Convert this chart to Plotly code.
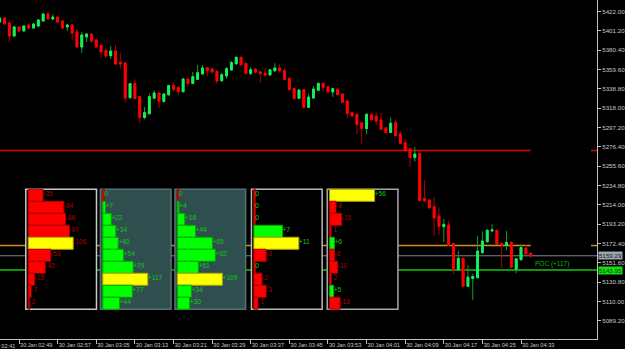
import plotly.graph_objects as go

# ---------------- data ----------------
DAY_LABEL = "30 Jan"
FIRST_BAR = "02:45"          # time of the first (partly visible) M1 candle

OPEN = [5410.7, 5415.0, 5409.7, 5395.7, 5405.4, 5401.1, 5407.5, 5404.3, 5406.4, 5411.8,
        5419.3, 5414.0, 5416.1, 5411.8, 5405.4, 5407.5, 5400.0, 5383.8, 5394.6, 5397.8,
        5391.4, 5385.5, 5380.1, 5374.5, 5379.5, 5367.4, 5366.6, 5329.3, 5344.4, 5330.4,
        5308.0, 5312.1, 5328.7, 5334.4, 5325.2, 5332.4, 5342.7, 5340.5, 5335.8, 5349.4,
        5344.6, 5349.1, 5354.8, 5361.6, 5360.2, 5357.7, 5347.6, 5352.7, 5359.1, 5365.8,
        5372.8, 5366.1, 5355.3, 5360.2, 5357.0, 5355.7, 5353.7, 5358.2, 5361.3, 5358.6,
        5350.2, 5339.2, 5328.7, 5338.1, 5319.0, 5329.0, 5337.3, 5344.8, 5341.1, 5335.5,
        5338.5, 5333.3, 5325.8, 5313.4, 5311.5, 5302.3, 5296.2, 5311.0, 5309.6, 5305.3,
        5297.0, 5291.9, 5302.4, 5290.3, 5280.9, 5274.1, 5265.0, 5269.5, 5221.1, 5219.3,
        5212.1, 5202.1, 5190.6, 5192.4, 5172.5, 5144.5, 5156.6, 5126.5, 5134.9, 5135.7,
        5162.6, 5174.4, 5186.0, 5186.7, 5172.5, 5170.4, 5173.8, 5144.9, 5155.0, 5167.5,
        5162.0]
HIGH = [5416.1, 5416.1, 5412.9, 5406.4, 5406.4, 5407.5, 5408.6, 5409.7, 5414.0, 5420.4,
        5421.5, 5419.3, 5417.2, 5412.9, 5408.6, 5408.6, 5403.2, 5400.0, 5398.9, 5398.9,
        5392.5, 5387.1, 5383.3, 5384.9, 5386.0, 5377.7, 5367.7, 5345.1, 5349.1, 5331.2,
        5319.3, 5333.8, 5337.1, 5334.9, 5334.4, 5343.0, 5345.9, 5341.4, 5350.0, 5350.8,
        5357.0, 5364.5, 5364.5, 5362.3, 5361.3, 5358.6, 5356.2, 5362.3, 5368.8, 5373.4,
        5373.4, 5368.0, 5362.0, 5361.3, 5358.0, 5361.3, 5360.2, 5366.4, 5365.2, 5360.9,
        5350.8, 5339.8, 5338.4, 5338.7, 5333.6, 5341.9, 5345.5, 5345.5, 5341.9, 5339.8,
        5339.0, 5333.8, 5326.3, 5313.9, 5312.1, 5302.9, 5312.3, 5313.2, 5313.2, 5313.2,
        5297.8, 5307.8, 5305.3, 5293.5, 5284.7, 5275.5, 5276.3, 5270.2, 5240.5, 5219.8,
        5222.2, 5211.2, 5198.9, 5197.0, 5173.0, 5164.7, 5157.2, 5149.2, 5140.0, 5180.9,
        5185.4, 5187.6, 5193.1, 5187.3, 5173.0, 5186.0, 5174.4, 5156.6, 5171.4, 5170.9,
        5162.3]
LOW = [5409.7, 5407.5, 5389.2, 5394.6, 5400.0, 5400.0, 5402.7, 5403.2, 5405.4, 5410.7,
       5412.9, 5412.9, 5409.7, 5403.2, 5401.1, 5391.4, 5382.8, 5377.4, 5389.2, 5388.2,
       5382.8, 5372.6, 5372.0, 5371.0, 5364.5, 5360.7, 5323.9, 5328.5, 5327.4, 5301.8,
       5306.1, 5311.3, 5327.9, 5317.9, 5324.2, 5331.7, 5335.8, 5332.5, 5334.9, 5341.1,
       5344.1, 5348.4, 5353.7, 5351.9, 5355.9, 5344.4, 5346.7, 5349.8, 5358.6, 5365.0,
       5363.9, 5354.6, 5353.4, 5355.9, 5345.7, 5353.0, 5353.0, 5357.7, 5357.5, 5348.4,
       5337.3, 5326.8, 5327.9, 5317.2, 5318.2, 5328.2, 5336.5, 5335.8, 5334.7, 5330.1,
       5331.9, 5323.6, 5307.2, 5308.9, 5289.9, 5279.5, 5289.9, 5304.3, 5300.0, 5294.6,
       5291.1, 5291.4, 5287.8, 5279.5, 5271.7, 5255.1, 5260.7, 5218.2, 5217.5, 5210.2,
       5180.8, 5181.6, 5174.1, 5169.8, 5139.7, 5144.0, 5125.7, 5125.7, 5111.7, 5135.1,
       5162.0, 5173.8, 5185.4, 5170.9, 5146.2, 5165.2, 5146.2, 5140.5, 5154.2, 5160.6,
       5156.6]
CLOSE = [5415.0, 5408.6, 5395.7, 5405.4, 5401.1, 5406.4, 5404.3, 5408.6, 5412.9, 5419.3,
         5414.0, 5416.1, 5410.7, 5404.3, 5407.5, 5398.9, 5383.8, 5396.8, 5397.8, 5390.3,
         5383.8, 5378.5, 5374.2, 5379.5, 5365.6, 5365.6, 5329.0, 5344.4, 5328.5, 5308.2,
         5313.2, 5330.4, 5334.4, 5325.6, 5333.3, 5342.4, 5338.5, 5335.8, 5349.4, 5344.6,
         5351.9, 5356.2, 5361.3, 5358.4, 5357.0, 5347.3, 5354.1, 5360.5, 5367.0, 5372.8,
         5364.8, 5355.3, 5359.4, 5356.7, 5355.1, 5353.7, 5359.3, 5361.3, 5358.2, 5349.1,
         5338.0, 5328.7, 5337.6, 5319.0, 5330.1, 5338.7, 5344.8, 5340.3, 5335.5, 5339.0,
         5332.5, 5324.4, 5312.3, 5309.6, 5300.5, 5296.2, 5311.5, 5305.9, 5304.3, 5295.3,
         5291.9, 5301.8, 5288.5, 5280.3, 5272.3, 5265.0, 5268.8, 5218.7, 5218.2, 5210.9,
         5199.9, 5190.8, 5193.0, 5170.7, 5144.5, 5156.6, 5126.5, 5136.3, 5137.0, 5164.2,
         5175.2, 5186.8, 5187.3, 5171.7, 5170.9, 5173.6, 5147.0, 5156.0, 5168.2, 5161.2,
         5159.29]

# horizontal price levels
RED_LEVEL = 5272.5
ORANGE_LEVEL = 5170.3
BID_PRICE = CLOSE[-1]
POC_PRICE = 5143.95

# volume-delta profiles (10 price rows each, top row first)
PROFILES = [
    [-35, -84, -88, -97, -106, -53, -40, -15, -7, -2],
    [0, 7, 22, 34, 40, 54, 79, 117, 77, 44],
    [0, 4, 18, 44, 85, 92, 51, 109, 34, 30],
    [0, 0, 0, 7, 11, -3, 0, -2, -3, -1],
    [56, -8, -15, -1, 6, -6, -10, -2, 5, -13],
]
PROFILE_START = [5.4, 20.85, 36.3, 52.15, 67.85]   # minutes after first bar
PROFILE_SPAN = 14.65
PROFILE_TOP = 5230.8
PROFILE_ROW = 12.9

# axis ticks
Y_TICK0 = 5089.2
Y_DTICK = 20.8
X_TICK_STEP = 8
X_FIRST_TICK = -4

# ---------------- helpers ----------------
h0, m0 = map(int, FIRST_BAR.split(":"))
START_MIN = h0 * 60 + m0


def label_for(minute):
    t = START_MIN + minute
    return f"{DAY_LABEL} {t // 60:02d}:{t % 60:02d}"


N = len(OPEN)
X = list(range(N))
X_RANGE = [0.06, 123.74]
Y_RANGE = [5069.8, 5434.4]

FONT = "Liberation Sans, Arial, sans-serif"
GREEN = "#14F05A"
GREEN_WICK = "#0E9E32"
RED = "#FF0000"
RED_WICK = "#B00000"

fig = go.Figure()

# candles: full OHLC (dark wicks), then bodies in bright colour on top
fig.add_trace(go.Candlestick(
    x=X, open=OPEN, high=HIGH, low=LOW, close=CLOSE,
    increasing=dict(line=dict(color=GREEN_WICK, width=1), fillcolor=GREEN),
    decreasing=dict(line=dict(color=RED_WICK, width=1), fillcolor=RED),
    whiskerwidth=0, showlegend=False, hoverinfo="skip"))
body_hi = [max(o, c) for o, c in zip(OPEN, CLOSE)]
body_lo = [min(o, c) for o, c in zip(OPEN, CLOSE)]
fig.add_trace(go.Candlestick(
    x=X, open=OPEN, high=body_hi, low=body_lo, close=CLOSE,
    increasing=dict(line=dict(color=GREEN, width=1), fillcolor=GREEN),
    decreasing=dict(line=dict(color=RED, width=1), fillcolor=RED),
    whiskerwidth=0, showlegend=False, hoverinfo="skip"))

# profiles
FULL_BAR = 9.32
MIN_BAR = 0.3
BAR_OFFSET = 0.5
bx, by, bbase, bcol, bline = [], [], [], [], []
tx, ty, tt, tc = [], [], [], []
for k, prof in enumerate(PROFILES):
    vmax = max(abs(v) for v in prof)
    start = PROFILE_START[k] + BAR_OFFSET
    for j, v in enumerate(prof):
        yc = PROFILE_TOP - (j + 0.5) * PROFILE_ROW
        length = max(abs(v) / vmax * FULL_BAR, MIN_BAR)
        if abs(v) == vmax:
            col, lc = "#FFFF00", "#A8A800"
        elif v > 0:
            col, lc = "#00FF00", "#00A800"
        else:
            col, lc = "#FF0000", "#B00000"
        bx.append(length)
        by.append(yc)
        bbase.append(start)
        bcol.append(col)
        bline.append(lc)
        tx.append(start + length)
        ty.append(yc + PROFILE_ROW * 0.08)
        tt.append(f"+{v}" if v > 0 else str(v))
        tc.append("#B00000" if v < 0 else "#10C810")

fig.add_trace(go.Bar(
    orientation="h", x=bx, y=by, base=bbase, width=PROFILE_ROW,
    marker=dict(color=bcol, line=dict(color=bline, width=1)),
    showlegend=False, hoverinfo="skip"))
fig.add_trace(go.Scatter(
    x=tx, y=ty, mode="text", text=tt, textposition="middle right",
    textfont=dict(size=6.7, color=tc, family=FONT),
    marker=dict(size=1), showlegend=False, hoverinfo="skip", cliponaxis=False))

# ---------------- shapes ----------------
shapes = []
shapes.append(dict(type="line", xref="x", yref="y", x0=X_RANGE[0], x1=X[-1],
                   y0=ORANGE_LEVEL, y1=ORANGE_LEVEL, layer="below",
                   line=dict(color="#D38E1C", width=1.5)))
box_fill = ["#000000", "#2F4F4F", "#2F4F4F", "#000000", "#000000"]
box_line = ["#C8C8C8", "#557272", "#557272", "#B8B8B8", "#A8A8A8"]
p_bottom = PROFILE_TOP - PROFILE_ROW * len(PROFILES[0])
for k in range(len(PROFILES)):
    shapes.append(dict(type="rect", xref="x", yref="y",
                       x0=PROFILE_START[k], x1=PROFILE_START[k] + PROFILE_SPAN,
                       y0=p_bottom, y1=PROFILE_TOP, layer="below",
                       fillcolor=box_fill[k], line=dict(color=box_line[k], width=1.5)))
shapes.append(dict(type="line", xref="paper", yref="y", x0=0, x1=1,
                   y0=BID_PRICE, y1=BID_PRICE, layer="below",
                   line=dict(color="#778899", width=1)))
shapes.append(dict(type="line", xref="paper", yref="y", x0=0, x1=1,
                   y0=POC_PRICE, y1=POC_PRICE, layer="below",
                   line=dict(color="#10C810", width=1.5)))
shapes.append(dict(type="line", xref="x", yref="y", x0=X_RANGE[0], x1=X[-1],
                   y0=RED_LEVEL, y1=RED_LEVEL, layer="below",
                   line=dict(color="#E00000", width=1.5)))
for lvl, col in ((RED_LEVEL, "#E00000"), (ORANGE_LEVEL, "#D38E1C")):
    shapes.append(dict(type="line", xref="paper", yref="y", x0=0.99, x1=1,
                       y0=lvl, y1=lvl, layer="above", line=dict(color=col, width=1.5)))

# ---------------- annotations ----------------
annotations = [
    dict(x=X[-1], y=POC_PRICE, xref="x", yref="y", xanchor="left", yanchor="bottom",
         xshift=2, yshift=0, showarrow=False, text=f"POC (+{max(PROFILES[1])})",
         font=dict(size=6.5, color="#10B010", family=FONT)),
    dict(x=1, y=BID_PRICE, xref="paper", yref="y", xanchor="left", yanchor="middle",
         xshift=1, showarrow=False, text=f"{BID_PRICE:.2f}", bgcolor="#9DA6AF",
         borderpad=0, font=dict(size=6.2, color="#1A1A1A", family=FONT)),
    dict(x=1, y=POC_PRICE, xref="paper", yref="y", xanchor="left", yanchor="middle",
         xshift=1, showarrow=False, text=f"{POC_PRICE:.2f}", bgcolor="#12E012",
         borderpad=0, font=dict(size=6.2, color="#0A3A0A", family=FONT)),
    dict(x=(X_FIRST_TICK - X_RANGE[0]) / (X_RANGE[1] - X_RANGE[0]), y=0,
         xref="paper", yref="paper", xanchor="left", yanchor="top", xshift=1, yshift=-2,
         showarrow=False, text=label_for(X_FIRST_TICK),
         font=dict(size=5.6, color="#C8C8C8", family=FONT)),
]

xt = list(range(X_FIRST_TICK + X_TICK_STEP, N, X_TICK_STEP))
yt = [round(Y_TICK0 + Y_DTICK * k, 2) for k in range(17)]

fig.update_layout(
    width=625, height=349,
    margin=dict(l=0, r=28, t=0, b=10, autoexpand=False),
    paper_bgcolor="#000000", plot_bgcolor="#000000",
    boxgap=0.45,
    showlegend=False,
    shapes=shapes, annotations=annotations,
    xaxis=dict(range=X_RANGE, showgrid=False, zeroline=False, showline=True,
               linecolor="#C0C0C0", linewidth=1, ticks="outside", ticklen=4,
               tickcolor="#C0C0C0", tickvals=xt, ticktext=[label_for(m) for m in xt],
               ticklabelposition="outside right", tickangle=0, automargin=False,
               tickfont=dict(size=5.6, color="#C8C8C8", family=FONT),
               rangeslider=dict(visible=False), fixedrange=True),
    yaxis=dict(range=Y_RANGE, side="right", showgrid=False, zeroline=False,
               showline=True, linecolor="#C0C0C0", linewidth=1, ticks="outside",
               ticklen=3, tickcolor="#C0C0C0", tickvals=yt, automargin=False,
               ticktext=[f"{v:.2f}" for v in yt],
               tickfont=dict(size=6.2, color="#C8C8C8", family=FONT), fixedrange=True),
)

fig.write_html("out.html")
